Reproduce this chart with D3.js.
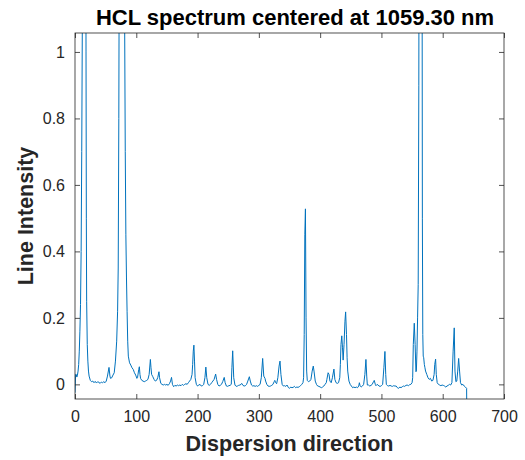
<!DOCTYPE html>
<html><head><meta charset="utf-8">
<script src="https://cdn.jsdelivr.net/npm/d3@7"></script>
<style>body{margin:0;background:#fff}svg{display:block}</style>
</head><body>
<svg id="c" width="525" height="460"></svg>
<script>
const titleText = "HCL spectrum centered at 1059.30 nm";
const xLabel = "Dispersion direction";
const yLabel = "Line Intensity";
const xTicks = [0,100,200,300,400,500,600,700];
const yTicks = [0,0.2,0.4,0.6,0.8,1];
const xDomain = [0,700];
const yDomain = [-0.044,1.057];

const pixel = [0,1,2,3,4,5,6,7,8,9,10,11,12,13,14.5,16,17,18,18.5,19,20,21,22,23,25,27,29,31,33,35,37,39,41,43,45,47,49,51,53,55.5,57,58,60,62,64,66,68,69.5,70.5,71.5,72.5,74,76,78,80,81,82,83,84,85,86,87,89,91,93,95,97,99,101,102,104,105,106,107,109,111,113,115,117,119,121,123,124,125,127,129,131,133,135,137,138,140,142,144,146,148,150,152,154,156,157.5,159,161,163,165,167,169,171,173,175,177,179,181,183,185,187,189,191,192,193,194,195,196,198,200,202,204,206,208,210,212,213.5,215,217,219,221,223,225,227,229.5,231,233,235,237,239,241,243.5,245,247,249,251,253,255,256,257.3,259,261,263,265,267,269,271,272,274,276,278,280,282,284.5,286,288,290,292,294,296,298,300,302,304,306.2,308,310,311,313,315,317,319,321,323,325,326,327.5,329,331,333,334.5,336,338,340,342,344,346,348,350,352,354,356,358,360,362,364,366,368,370,372,373,374,375,376,377,378,379,381,383,385,387,388.8,390,392,394,396,398,400,402,404,406,408,410,411,413,414.5,416,418,420,422.5,424,426,428,430,432,433,434,435.3,436.5,437.5,439,440.5,441.6,443,444,445,447,449,451,453,455,457,459,461,463,464,465,467,469,471,473,474.7,476,477,479,481,483,485,487,488.3,490,491,493,494.5,496,498,500,502,504,505.7,507,508,510,512,514,516,518,520,522,524,526,528,530,532,534,536,538,540,542,544,546,548,550,551,552,553.6,555,556.3,557,558,559,560,561,562,563,565,566,566.8,567.5,568.2,569,570,571,572,574,576,578,580,582,584,586,587,588.4,589.5,591,593,595,597,599,601,603,605,607,609,611,613,615,617,618.8,620,621.5,623,624.5,626,627.5,629,631,633,635,637,639,640];
const intensity = [-0.025,0.03,0.03,0.022,0.028,0.04,0.06,0.1,0.16,0.24,0.4,0.7,1.1,2.5,4,3,1.8,1.0,0.5,0.25,0.12,0.07,0.04,0.025,0.012,0.008,0.01,0.005,0.009,0.004,0.008,0.006,0.003,0.007,0.005,0.008,0.005,0.01,0.025,0.051,0.025,0.018,0.02,0.028,0.035,0.07,0.13,0.22,0.35,0.8,1.5,3,5,5,2.5,1.1,0.7,0.45,0.32,0.22,0.13,0.085,0.065,0.058,0.05,0.045,0.035,0.028,0.018,0.02,0.045,0.053,0.03,0.018,0.012,0.01,0.008,0.01,0.012,0.015,0.03,0.075,0.05,0.03,0.023,0.015,0.01,0.012,0.02,0.038,0.02,0.003,0.0,-0.002,0.0,-0.002,0.0,-0.003,0.002,0.01,0.021,0.0,-0.007,-0.003,-0.005,-0.002,-0.004,-0.002,-0.004,0.0,-0.003,0.0,0.002,0.0,0.005,0.01,0.015,0.03,0.06,0.1,0.118,0.07,0.02,0.0,-0.005,-0.002,0.0,-0.005,-0.004,0.0,0.02,0.052,0.02,0.0,-0.003,0.0,0.005,0.01,0.015,0.031,0.015,0.0,-0.005,-0.003,0.0,0.008,0.021,0.005,-0.005,-0.006,-0.004,-0.003,0.0,0.05,0.101,0.02,-0.002,-0.006,-0.005,-0.003,-0.002,0.0,0.003,-0.003,-0.005,-0.004,0.0,0.01,0.023,0.01,-0.002,-0.005,-0.004,-0.006,-0.004,-0.006,-0.003,0.0,0.02,0.078,0.025,0.018,0.01,0.0,-0.005,-0.006,-0.005,-0.003,0.0,0.008,0.012,0.005,0.002,0.02,0.055,0.07,0.03,0.0,-0.005,-0.004,-0.006,-0.002,-0.009,-0.012,-0.008,-0.01,-0.009,-0.006,-0.01,-0.008,-0.009,-0.007,-0.004,0.0,0.005,0.02,0.15,0.45,0.528,0.2,0.04,0.012,0.008,0.01,0.015,0.04,0.055,0.04,0.01,0.0,-0.005,-0.006,-0.008,-0.01,-0.008,-0.005,0.0,0.005,0.015,0.035,0.03,0.01,0.005,0.02,0.046,0.015,0.005,0.003,0.005,0.02,0.06,0.12,0.146,0.11,0.073,0.12,0.19,0.218,0.15,0.08,0.04,0.01,0.0,-0.005,-0.01,-0.008,-0.01,-0.008,-0.01,-0.005,0.005,-0.003,-0.008,-0.005,0.0,0.03,0.075,0.025,-0.002,-0.002,-0.005,-0.003,0.0,0.008,0.012,0.0,-0.004,0.0,-0.002,-0.005,-0.006,-0.004,0.0,0.05,0.099,0.03,0.0,-0.004,-0.005,-0.003,-0.005,-0.006,-0.004,-0.005,-0.005,-0.01,-0.012,-0.008,-0.01,-0.007,-0.005,-0.006,-0.003,-0.002,-0.004,-0.001,0.0,0.005,0.02,0.12,0.184,0.12,0.038,0.04,0.1,0.2,0.3,0.9,2,4,4,2,0.5,0.15,0.085,0.08,0.06,0.05,0.04,0.03,0.02,0.015,0.018,0.01,0.012,0.03,0.06,0.076,0.03,0.005,0.0,-0.002,-0.004,-0.002,-0.003,-0.005,-0.008,-0.005,-0.003,0.0,-0.002,0.005,0.1,0.17,0.04,0.008,0.01,0.04,0.078,0.04,0.005,-0.002,0.0,-0.005,-0.008,-0.012,-0.3];

const svg = d3.select("#c");
const m = {l:75, r:504, t:33, b:399};
const x = d3.scaleLinear().domain(xDomain).range([m.l, m.r]);
const y = d3.scaleLinear().domain(yDomain).range([m.b, m.t]);
const axisColor = "#262626";
const font = "Liberation Sans, Arial, Helvetica, sans-serif";

svg.append("defs").append("clipPath").attr("id","clip")
  .append("rect").attr("x",m.l).attr("y",m.t).attr("width",m.r-m.l).attr("height",m.b-m.t);

const pts = pixel.map((p,i)=>[p,intensity[i]]);
svg.append("path").datum(pts)
  .attr("clip-path","url(#clip)")
  .attr("fill","none").attr("stroke","#0072BD").attr("stroke-width",1)
  .attr("d", d3.line().x(d=>x(d[0])).y(d=>y(d[1])));

const tl = 5;
const gx = svg.append("g").attr("transform",`translate(0,${m.b})`)
  .call(d3.axisBottom(x).tickValues(xTicks).tickSizeInner(-tl).tickSizeOuter(0).tickPadding(12).tickFormat(d3.format("d")));
const gxt = svg.append("g").attr("transform",`translate(0,${m.t})`)
  .call(d3.axisTop(x).tickValues(xTicks).tickSizeInner(-tl).tickSizeOuter(0).tickFormat(""));
const gy = svg.append("g").attr("transform",`translate(${m.l},0)`)
  .call(d3.axisLeft(y).tickValues(yTicks).tickSizeInner(-tl).tickSizeOuter(0).tickPadding(10).tickFormat(d=>d===0?"0":d===1?"1":d3.format(".1f")(d)));
const gyr = svg.append("g").attr("transform",`translate(${m.r},0)`)
  .call(d3.axisRight(y).tickValues(yTicks).tickSizeInner(-tl).tickSizeOuter(0).tickFormat(""));
[gx,gxt,gy,gyr].forEach(g=>{
  g.select(".domain").remove();
  g.selectAll("line").attr("stroke",axisColor).attr("stroke-width",0.8);
  g.selectAll("text").attr("fill",axisColor).style("font-family",font).style("font-size","16px");
});
svg.append("rect").attr("x",m.l).attr("y",m.t).attr("width",m.r-m.l).attr("height",m.b-m.t)
  .attr("fill","none").attr("stroke",axisColor).attr("stroke-width",0.8);

svg.append("text").attr("x",(m.l+m.r)/2).attr("y",451).attr("text-anchor","middle")
  .style("font-family",font).style("font-weight","bold").style("font-size","21.5px").attr("fill",axisColor).text(xLabel);
svg.append("text").attr("transform",`translate(33,${(m.t+m.b)/2}) rotate(-90)`).attr("text-anchor","middle")
  .style("font-family",font).style("font-weight","bold").style("font-size","21.5px").attr("fill",axisColor).text(yLabel);
svg.append("text").attr("x",295).attr("y",25).attr("text-anchor","middle")
  .style("font-family",font).style("font-weight","bold").style("font-size","22px").attr("fill","#000").text(titleText);
</script>
</body></html>
